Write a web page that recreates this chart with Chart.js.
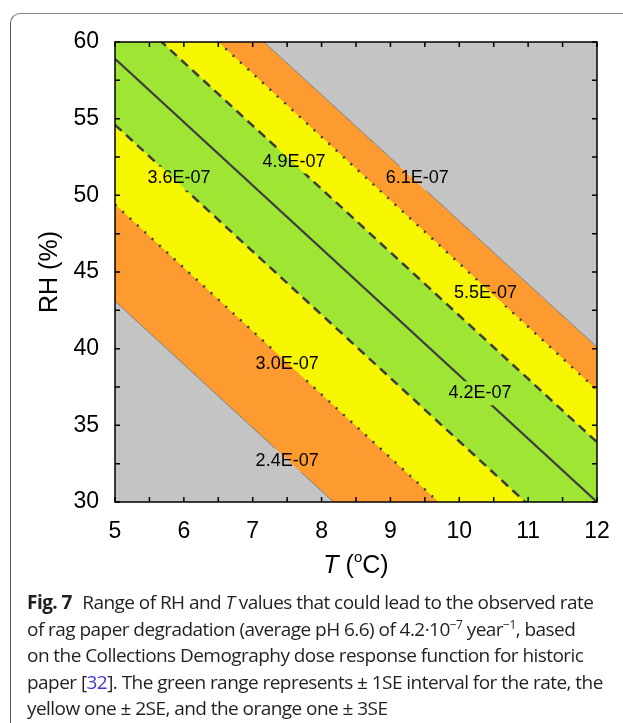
<!DOCTYPE html>
<html>
<head>
<meta charset="utf-8">
<script src="https://cdn.jsdelivr.net/npm/chart.js@4.4.1/dist/chart.umd.min.js"></script>
<style>
  html, body { margin: 0; padding: 0; background: #fff; width: 623px; height: 723px; overflow: hidden; }
  #card { position: absolute; left: 10px; top: 13px; width: 700px; height: 800px;
          border: 1.5px solid #555; border-top-color: #888; border-radius: 10px; }
  #wrap { position: absolute; left: 0; top: 0; width: 623px; height: 590px; }
  #caption { position: absolute; left: 27px; top: 589px; font-family: "Open Sans", sans-serif;
             font-size: 19px; line-height: 26.6px; color: #231f20; white-space: nowrap; letter-spacing: -0.55px; }
  #caption b { font-weight: 700; margin-right: 6px; }
  #caption sup { font-size: 12px; line-height: 0; vertical-align: 7px; }
  #caption .ref { color: #3a3acc; }
</style>
</head>
<body>
<div id="card"></div>
<div id="wrap"><canvas id="chart"></canvas></div>
<div id="caption">
  <b>Fig. 7</b> Range of RH and <i>T</i> values that could lead to the observed rate<br>
  of rag paper degradation (average pH 6.6) of 4.2·10<sup>−7</sup> year<sup>−1</sup>, based<br>
  on the Collections Demography dose response function for historic<br>
  paper [<span class="ref">32</span>]. The green range represents ± 1SE interval for the rate, the<br>
  yellow one ± 2SE, and the orange one ± 3SE
</div>
<script>
// ===============================
// DADOS
// ===============================

// temperaturas nas pontas de cada isolinha (°C)
const temps = [5, 12];

// UR (%) de cada isolinha em T = 5 e T = 12
const rh_2_4 = [43.1, 14.2];   // -3SE
const rh_3_0 = [49.4, 20.5];   // -2SE
const rh_3_6 = [54.6, 25.7];   // -1SE
const rh_4_2 = [58.9, 30.0];   // taxa observada
const rh_4_9 = [62.8, 33.9];   // +1SE
const rh_5_5 = [66.2, 37.3];   // +2SE
const rh_6_1 = [68.9, 40.1];   // +3SE

// rótulos das isolinhas e onde ficam (T, UR)
const labelText = ["2.4E-07", "3.0E-07", "3.6E-07", "4.2E-07", "4.9E-07", "5.5E-07", "6.1E-07"];
const labelT    = [7.50, 7.50, 5.93, 10.30, 7.60, 10.38, 9.39];
const labelRH   = [32.7, 39.0, 51.1, 37.1, 52.2, 43.6, 51.1];

const xTicks = [5, 6, 7, 8, 9, 10, 11, 12];
const yTicks = [30, 35, 40, 45, 50, 55, 60];

const cinza   = "#c4c4c4";
const laranja = "#fd9b31";
const amarelo = "#f6f600";
const verde   = "#9ee633";
const linha   = "#3d3d3d";

const pts = rh => temps.map((t, i) => ({ x: t, y: rh[i] }));

const labelFont = '18px "Liberation Sans", Arial, sans-serif';

// ===============================
// PLUGIN: rótulos, moldura, ticks e títulos
// ===============================

const contornos = {
    id: "contornos",
    beforeDatasetsDraw(chart) {
        const { ctx, scales: { x, y } } = chart;
        ctx.save();
        ctx.font = labelFont;
        ctx.beginPath();
        ctx.rect(0, 0, chart.width, chart.height);
        labelText.forEach((t, i) => {
            const px = x.getPixelForValue(labelT[i]);
            const py = y.getPixelForValue(labelRH[i]);
            const w = ctx.measureText(t).width + 6;
            const h = 24;
            ctx.rect(px - w / 2, py - h / 2, w, h);
        });
        ctx.clip("evenodd");
    },
    afterDatasetsDraw(chart) {
        const { ctx, scales: { x, y } } = chart;
        ctx.restore();
        ctx.save();
        ctx.font = labelFont;
        ctx.fillStyle = "#000";
        ctx.textAlign = "center";
        ctx.textBaseline = "middle";
        labelText.forEach((t, i) => {
            ctx.fillText(t, x.getPixelForValue(labelT[i]), y.getPixelForValue(labelRH[i]));
        });
        ctx.restore();
    },
    afterDraw(chart) {
        const { ctx, chartArea: a, scales: { x, y } } = chart;
        ctx.save();
        ctx.strokeStyle = "#000";
        ctx.lineWidth = 1.5;
        ctx.beginPath();
        // ticks para dentro, a cada meia divisão, nos quatro lados
        for (let t = 5; t <= 12; t += 0.5) {
            const px = x.getPixelForValue(t);
            ctx.moveTo(px, a.bottom); ctx.lineTo(px, a.bottom - 5);
            ctx.moveTo(px, a.top); ctx.lineTo(px, a.top + 5);
        }
        for (let r = 30; r <= 60; r += 2.5) {
            const py = y.getPixelForValue(r);
            ctx.moveTo(a.left, py); ctx.lineTo(a.left + 5, py);
            ctx.moveTo(a.right, py); ctx.lineTo(a.right - 5, py);
        }
        ctx.stroke();
        ctx.strokeRect(a.left, a.top, a.right - a.left, a.bottom - a.top);

        // título eixo y
        ctx.fillStyle = "#000";
        ctx.font = '25px "Liberation Sans", Arial, sans-serif';
        ctx.textAlign = "center";
        ctx.textBaseline = "middle";
        ctx.save();
        ctx.translate(50, (a.top + a.bottom) / 2);
        ctx.rotate(-Math.PI / 2);
        ctx.fillText("RH (%)", 0, 0);
        ctx.restore();

        // título eixo x: T itálico, (ºC)
        const cx = (a.left + a.right) / 2, cy = 566;
        const f = '25px "Liberation Sans", Arial, sans-serif';
        const parts = [
            { s: "T", font: "italic " + f, dy: 0 },
            { s: " (", font: f, dy: 0 },
            { s: "o", font: '15px "Liberation Sans", Arial, sans-serif', dy: -8 },
            { s: "C)", font: f, dy: 0 }
        ];
        let total = 0;
        parts.forEach(p => { ctx.font = p.font; p.w = ctx.measureText(p.s).width; total += p.w; });
        let px = cx - total / 2;
        ctx.textAlign = "left";
        parts.forEach(p => { ctx.font = p.font; ctx.fillText(p.s, px, cy + p.dy); px += p.w; });
        ctx.restore();
    }
};

// ===============================
// GRÁFICO
// ===============================

const borda = (cor, larg, dash) => ({ borderColor: cor, borderWidth: larg, borderDash: dash, pointRadius: 0 });

new Chart(document.getElementById("chart"), {
    type: "line",
    data: {
        datasets: [
            { data: pts(rh_2_4), fill: "start", backgroundColor: cinza,   ...borda("#808080", 1, []) },
            { data: pts(rh_3_0), fill: "start", backgroundColor: laranja, ...borda(linha, 2.5, [2, 8]) },
            { data: pts(rh_3_6), fill: "start", backgroundColor: amarelo, ...borda(linha, 2.5, [9, 6]) },
            { data: pts(rh_4_9), fill: "start", backgroundColor: verde,   ...borda(linha, 2.5, [9, 6]) },
            { data: pts(rh_5_5), fill: "start", backgroundColor: amarelo, ...borda(linha, 2.5, [2, 8]) },
            { data: pts(rh_6_1), fill: "start", backgroundColor: laranja, ...borda("#808080", 1, []) },
            { data: pts(rh_6_1), fill: "end",   backgroundColor: cinza,   ...borda("rgba(0,0,0,0)", 0, []) },
            { data: pts(rh_4_2), fill: false, ...borda(linha, 2.2, []) }
        ]
    },
    options: {
        responsive: true,
        maintainAspectRatio: false,
        animation: false,
        layout: { padding: { left: 0, right: 26, top: 42, bottom: 0 } },
        plugins: {
            legend: { display: false },
            tooltip: { enabled: false },
            filler: { drawTime: "beforeDatasetsDraw" }
        },
        scales: {
            x: {
                type: "linear",
                min: 5, max: 12,
                afterFit: s => { s.height = 88; },
                afterBuildTicks: s => { s.ticks = xTicks.map(v => ({ value: v })); },
                grid: { display: false },
                border: { display: false },
                ticks: { color: "#000", padding: 8, maxRotation: 0, font: { family: "Liberation Sans", size: 23 } }
            },
            y: {
                min: 30, max: 60,
                afterFit: s => { s.width = 115; },
                afterBuildTicks: s => { s.ticks = yTicks.map(v => ({ value: v })); },
                grid: { display: false },
                border: { display: false },
                ticks: { color: "#000", padding: 8, font: { family: "Liberation Sans", size: 23 } }
            }
        }
    },
    plugins: [contornos]
});
</script>
</body>
</html>
